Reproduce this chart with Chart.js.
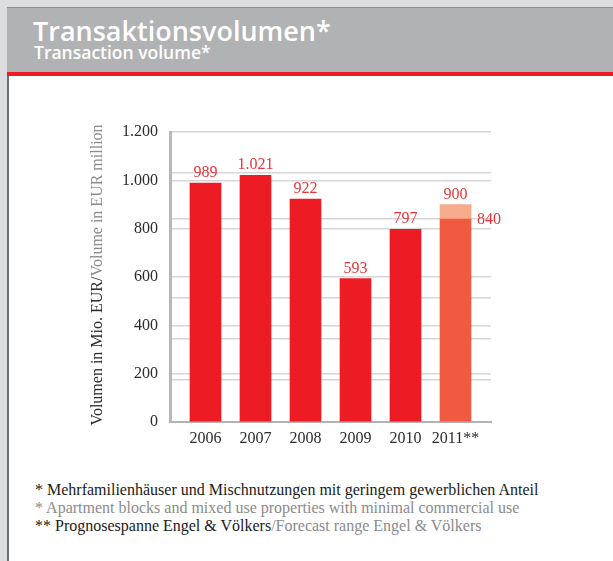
<!DOCTYPE html>
<html>
<head>
<meta charset="utf-8">
<script src="https://cdn.jsdelivr.net/npm/chart.js@4.4.1/dist/chart.umd.min.js"></script>
<style>
  html, body { margin: 0; padding: 0; }
  body { width: 613px; height: 561px; background: #dcdddf; position: relative; overflow: hidden; font-family: 'Liberation Serif', 'Times New Roman', serif; }
  .card { position: absolute; left: 7px; top: 7px; width: 604px; height: 560px; background: #fff; border-left: 2px solid #6d6e70; border-right: 1px solid #a7a9ab; }
  .head { position: absolute; left: 7px; top: 7px; width: 607px; height: 64px; background: #b1b2b4; border-top: 1px solid #8d8e90; border-bottom: 4px solid #ed1c24; }
  .title { position: absolute; left: 33px; top: 17px; font-family: 'Open Sans', sans-serif; font-weight: 600; font-size: 27px; line-height: 1; color: #fff; white-space: nowrap; }
  .subtitle { position: absolute; left: 34px; top: 44px; font-family: 'Open Sans', sans-serif; font-weight: 600; font-size: 17.5px; line-height: 1; color: #fff; white-space: nowrap; }
  #chart { position: absolute; left: 0; top: 0; }
  .ytitle { position: absolute; left: -63px; top: 266px; width: 320px; text-align: center; transform: rotate(-90deg); font-size: 16px; line-height: 18px; color: #2b2b2b; white-space: nowrap; }
  .grey { color: #8b8b8b; }
  .notes { position: absolute; left: 35px; top: 481px; font-size: 16px; line-height: 18px; color: #1a1a1a; white-space: nowrap; }
</style>
</head>
<body>
<div class="card"></div>
<div class="head"></div>
<div class="title">Transaktionsvolumen*</div>
<div class="subtitle">Transaction volume*</div>
<canvas id="chart" width="613" height="470"></canvas>
<div class="ytitle">Volumen in Mio. EUR/<span class="grey">Volume in EUR million</span></div>
<div class="notes">
  * Mehrfamilienhäuser und Mischnutzungen mit geringem gewerblichen Anteil<br>
  <span class="grey">* Apartment blocks and mixed use properties with minimal commercial use</span><br>
  ** Prognosespanne Engel &amp; Völkers<span class="grey">/Forecast range Engel &amp; Völkers</span>
</div>
<script>
// Daten
const categories = ['2006', '2007', '2008', '2009', '2010', '2011**'];
const volumes = [989, 1021, 922, 593, 797, 840];
const forecastIndex = 5;
const forecastRange = [840, 900];
const yTickValues = [0, 200, 400, 600, 800, 1000, 1200];
const extraGridValues = [174, 343, 515, 840, 1030];

const RED = '#ed1c24';
const CORAL = '#f05a40';
const SALMON = '#f7ab8d';
const LABEL_RED = '#e6353b';

// 1200 -> "1.200"
const fmt = v => String(v).replace(/\B(?=(\d{3})+(?!\d))/g, '.');

// Werte über den Balken
const valueLabels = {
  id: 'valueLabels',
  afterDatasetsDraw(chart) {
    const ctx = chart.ctx;
    const bars = chart.getDatasetMeta(0).data;
    const top = chart.getDatasetMeta(1).data[0];
    ctx.save();
    ctx.font = '16px "Liberation Serif", serif';
    ctx.fillStyle = LABEL_RED;
    ctx.textBaseline = 'alphabetic';
    bars.forEach((bar, i) => {
      if (i === forecastIndex) {
        ctx.textAlign = 'left';
        ctx.fillText(fmt(volumes[i]), bar.x + bar.width / 2 + 6, bar.y + 5);
      } else {
        ctx.textAlign = 'center';
        ctx.fillText(fmt(volumes[i]), bar.x, bar.y - 6);
      }
    });
    ctx.textAlign = 'center';
    ctx.fillText(fmt(forecastRange[1]), top.x, top.y - 6);
    ctx.restore();
  }
};

const tickFont = { family: '"Liberation Serif", serif', size: 16 };

new Chart(document.getElementById('chart'), {
  type: 'bar',
  data: {
    datasets: [{
      data: volumes.map((v, i) => ({ x: i, y: v })),
      backgroundColor: volumes.map((v, i) => i === forecastIndex ? CORAL : RED),
      barThickness: 31,
      grouped: false
    }, {
      data: [{ x: forecastIndex, y: forecastRange }],
      backgroundColor: SALMON,
      barThickness: 31,
      grouped: false
    }]
  },
  options: {
    responsive: false,
    animation: false,
    layout: { padding: { left: 110, right: 122, top: 132, bottom: 18 } },
    plugins: { legend: { display: false }, tooltip: { enabled: false } },
    scales: {
      x: {
        type: 'linear',
        offset: false,
        min: -0.71,
        max: 5.71,
        afterBuildTicks: s => { s.ticks = categories.map((c, i) => ({ value: i })); },
        afterFit: s => { s.height = 30; },
        grid: { color: 'rgba(0,0,0,0)', drawTicks: false, offset: false },
        border: { color: '#b3b3b3', width: 2 },
        ticks: { callback: v => categories[v], font: tickFont, color: '#2b2b2b', padding: 7, maxRotation: 0, autoSkip: false }
      },
      y: {
        min: 0,
        max: 1200,
        afterBuildTicks: s => { s.ticks = yTickValues.map(v => ({ value: v })); },
        afterFit: s => { s.width = 60; },
        grid: { color: '#d6d6d6', lineWidth: 1.5, drawTicks: false },
        border: { color: '#b8b8b8', width: 3 },
        ticks: { callback: v => fmt(v), font: tickFont, color: '#2b2b2b', padding: 12 }
      },
      yExtra: {
        position: 'left',
        min: 0,
        max: 1200,
        afterBuildTicks: s => { s.ticks = extraGridValues.map(v => ({ value: v })); },
        afterFit: s => { s.width = 0; },
        grid: { color: '#d6d6d6', lineWidth: 1.5, drawTicks: false },
        border: { display: false },
        ticks: { display: false }
      }
    }
  },
  plugins: [valueLabels]
});
</script>
</body>
</html>
